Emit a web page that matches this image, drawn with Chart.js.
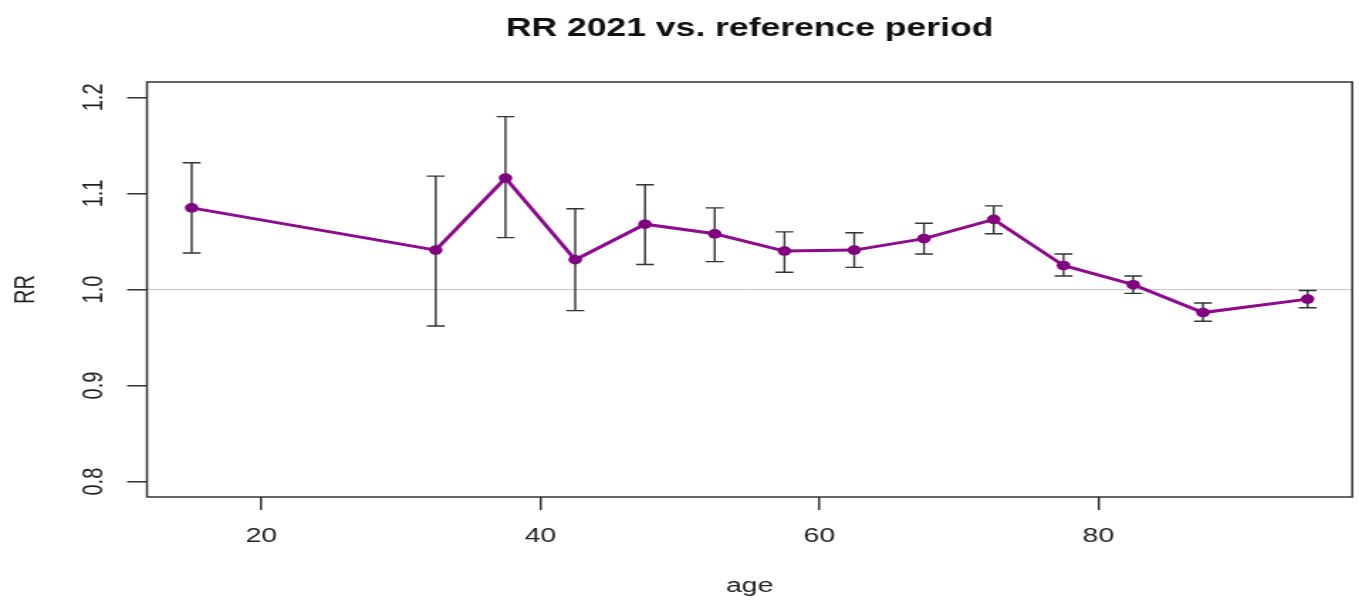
<!DOCTYPE html>
<html>
<head>
<meta charset="utf-8">
<script src="https://cdn.jsdelivr.net/npm/chart.js@4/dist/chart.umd.min.js"></script>
<style>
  html, body { margin: 0; padding: 0; background: #fff; overflow: hidden; }
  #wrap { width: 957px; height: 603px; transform: scaleX(1.4201); transform-origin: 0 0; }
</style>
</head>
<body>
<div id="wrap"><canvas id="rr-chart" width="957" height="603"></canvas></div>
<script>
// age group midpoints and relative risk with confidence interval
const ages = [15, 32.5, 37.5, 42.5, 47.5, 52.5, 57.5, 62.5, 67.5, 72.5, 77.5, 82.5, 87.5, 95];
const rr = [1.085, 1.041, 1.116, 1.031, 1.068, 1.058, 1.040, 1.041, 1.053, 1.073, 1.025, 1.005, 0.976, 0.990];
const rrLower = [1.038, 0.962, 1.054, 0.978, 1.026, 1.029, 1.018, 1.023, 1.037, 1.058, 1.014, 0.996, 0.967, 0.981];
const rrUpper = [1.132, 1.118, 1.180, 1.084, 1.109, 1.085, 1.060, 1.059, 1.069, 1.087, 1.037, 1.014, 0.986, 0.999];

const xTicks = [20, 40, 60, 80];
const yTicks = [0.8, 0.9, 1.0, 1.1, 1.2];
const yLim = [0.8, 1.2];
const refLine = 1.0;

const FONT = "'Liberation Sans', Arial, Helvetica, sans-serif";
const INK = "#222";

// R style axis extension (4% each side)
const xPad = (Math.max(...ages) - Math.min(...ages)) * 0.04;
const yPad = (yLim[1] - yLim[0]) * 0.04;

const errorBars = {
  id: "errorBars",
  beforeDatasetsDraw(chart) {
    const { ctx, chartArea, scales } = chart;
    const x = scales.x;
    const y = scales.y;

    // reference line at RR = 1
    ctx.save();
    ctx.strokeStyle = "#c8c8c8";
    ctx.lineWidth = 1;
    ctx.beginPath();
    ctx.moveTo(chartArea.left, y.getPixelForValue(refLine));
    ctx.lineTo(chartArea.right, y.getPixelForValue(refLine));
    ctx.stroke();

    ctx.strokeStyle = "#333";
    ctx.lineWidth = 1.4;
    const cap = 6.3;
    ages.forEach((age, i) => {
      const px = x.getPixelForValue(age);
      const lo = y.getPixelForValue(rrLower[i]);
      const hi = y.getPixelForValue(rrUpper[i]);
      ctx.beginPath();
      ctx.moveTo(px, lo);
      ctx.lineTo(px, hi);
      ctx.moveTo(px - cap, lo);
      ctx.lineTo(px + cap, lo);
      ctx.moveTo(px - cap, hi);
      ctx.lineTo(px + cap, hi);
      ctx.stroke();
    });
    ctx.restore();
  },
  afterDraw(chart) {
    const { ctx, chartArea } = chart;
    ctx.save();
    ctx.strokeStyle = "#333";
    ctx.lineWidth = 1.5;
    ctx.strokeRect(chartArea.left, chartArea.top, chartArea.right - chartArea.left, chartArea.bottom - chartArea.top);
    ctx.restore();
  }
};

new Chart(document.getElementById("rr-chart"), {
  type: "line",
  data: {
    datasets: [
      {
        label: "RR",
        data: ages.map((age, i) => ({ x: age, y: rr[i] })),
        borderColor: "#8e0a8e",
        backgroundColor: "#800080",
        borderWidth: 3,
        pointRadius: 4.8,
        pointBorderWidth: 0,
        tension: 0
      }
    ]
  },
  options: {
    responsive: false,
    devicePixelRatio: 1,
    animation: false,
    layout: {
      padding: { left: 0, right: 3.6, top: 0, bottom: 0 }
    },
    scales: {
      x: {
        type: "linear",
        min: Math.min(...ages) - xPad,
        max: Math.max(...ages) + xPad,
        afterBuildTicks: scale => {
          scale.ticks = xTicks.map(v => ({ value: v }));
        },
        afterFit: scale => {
          scale.height = 106;
        },
        border: { display: false },
        grid: {
          drawOnChartArea: false,
          drawTicks: true,
          tickLength: 13,
          color: "#333",
          lineWidth: 1.5
        },
        ticks: {
          color: INK,
          padding: 14,
          font: { family: FONT, size: 20 },
          callback: value => String(value)
        },
        title: {
          display: true,
          text: "age",
          color: INK,
          font: { family: FONT, size: 20 },
          padding: { top: 0, bottom: 5 }
        }
      },
      y: {
        min: yLim[0] - yPad,
        max: yLim[1] + yPad,
        afterBuildTicks: scale => {
          scale.ticks = yTicks.map(v => ({ value: v }));
        },
        afterFit: scale => {
          scale.width = 103.5;
        },
        border: { display: false },
        grid: {
          drawOnChartArea: false,
          drawTicks: true,
          tickLength: 14,
          color: "#333",
          lineWidth: 1.5
        },
        ticks: {
          color: INK,
          padding: 8.7,
          minRotation: 90,
          maxRotation: 90,
          crossAlign: "center",
          font: { family: FONT, size: 20 },
          callback: value => Number(value).toFixed(1)
        },
        title: {
          display: true,
          text: "RR",
          color: INK,
          font: { family: FONT, size: 20 },
          padding: { top: 6.3, bottom: 0 }
        }
      }
    },
    plugins: {
      legend: { display: false },
      tooltip: { enabled: false },
      title: {
        display: true,
        fullSize: false,
        text: "RR 2021 vs. reference period",
        color: "#111",
        font: { family: FONT, size: 25, weight: "bold" },
        padding: { top: 14, bottom: 38 }
      }
    }
  },
  plugins: [errorBars]
});
</script>
</body>
</html>
